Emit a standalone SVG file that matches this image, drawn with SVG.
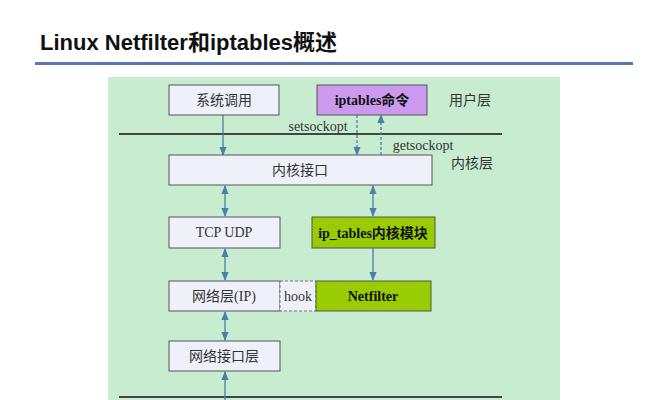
<svg xmlns="http://www.w3.org/2000/svg" width="667" height="400" viewBox="0 0 667 400">
<defs>
<style>
.t{font-family:"Liberation Serif","Noto Sans CJK SC",serif;font-size:14px;fill:#333;text-anchor:middle}
.b{font-weight:bold;fill:#111}
.box{fill:#eef0fa;stroke:#555;stroke-width:1}
.c{stroke:#4a7eab;stroke-width:1.3;fill:none}
.d{stroke-dasharray:3,2}
</style>
<marker id="a" viewBox="0 0 10 10" refX="9" refY="5" markerWidth="7" markerHeight="7" orient="auto-start-reverse"><path d="M0,1 L10,5 L0,9 z" fill="#4a7eab"/></marker>
</defs>
<rect width="667" height="400" fill="#fff"/>
<text x="40" y="50" style="font-family:'Liberation Sans','Noto Sans CJK SC',sans-serif;font-size:22px;font-weight:bold" fill="#111">Linux Netfilter和iptables概述</text>
<rect x="35" y="62" width="598" height="3" fill="#5877b0"/>
<rect x="108" y="77" width="452" height="323" fill="#c8ecd0"/>
<line x1="119" y1="134" x2="502" y2="134" stroke="#111" stroke-width="1.5"/>
<line x1="119" y1="397" x2="502" y2="397" stroke="#111" stroke-width="1.5"/>
<text class="t" x="470" y="105">用户层</text>
<text class="t" x="472" y="168">内核层</text>
<text class="t" x="318" y="131" font-size="13">setsockopt</text>
<text class="t" x="423" y="150" font-size="13">getsockopt</text>
<g id="connectors">
<line class="c" x1="223" y1="115" x2="223" y2="155" marker-end="url(#a)"/>
<line class="c d" x1="357" y1="115" x2="357" y2="155" marker-end="url(#a)"/>
<line class="c d" x1="381" y1="155" x2="381" y2="115" marker-end="url(#a)"/>
<line class="c" x1="225" y1="186" x2="225" y2="216" marker-start="url(#a)" marker-end="url(#a)"/>
<line class="c" x1="373" y1="186" x2="373" y2="216" marker-start="url(#a)" marker-end="url(#a)"/>
<line class="c" x1="225" y1="249" x2="225" y2="280" marker-start="url(#a)" marker-end="url(#a)"/>
<line class="c" x1="373" y1="248" x2="373" y2="280" marker-end="url(#a)"/>
<line class="c" x1="225" y1="312" x2="225" y2="340" marker-start="url(#a)" marker-end="url(#a)"/>
<line class="c" x1="225" y1="400" x2="225" y2="372" marker-end="url(#a)"/>
</g>
<g id="syscall"><rect class="box" x="169" y="85" width="110" height="30"/><text class="t" x="224" y="105">系统调用</text></g>
<g id="iptables"><rect x="317" y="85" width="110" height="30" fill="#cc99ee" stroke="#555"/><text class="t b" x="372" y="105">iptables命令</text></g>
<g id="kif"><rect class="box" x="169" y="155" width="263" height="30"/><text class="t" x="300" y="175">内核接口</text></g>
<g id="tcpudp"><rect class="box" x="169" y="217" width="111" height="31"/><text class="t" x="224" y="237">TCP    UDP</text></g>
<g id="iptmod"><rect x="312" y="217" width="123" height="31" fill="#99cc00" stroke="#555"/><text class="t b" x="373" y="238">ip_tables内核模块</text></g>
<g id="ip"><rect class="box" x="169" y="281" width="111" height="30"/><text class="t" x="224" y="301">网络层(IP)</text></g>
<g id="hook"><rect x="280" y="281" width="36" height="30" fill="#eef0fa" stroke="#777" stroke-dasharray="3,2"/><text class="t" x="298" y="301">hook</text></g>
<g id="netfilter"><rect x="316" y="281" width="115" height="30" fill="#99cc00" stroke="#555"/><text class="t b" x="373" y="301">Netfilter</text></g>
<g id="nif"><rect class="box" x="169" y="341" width="111" height="30"/><text class="t" x="224" y="361">网络接口层</text></g>
</svg>
